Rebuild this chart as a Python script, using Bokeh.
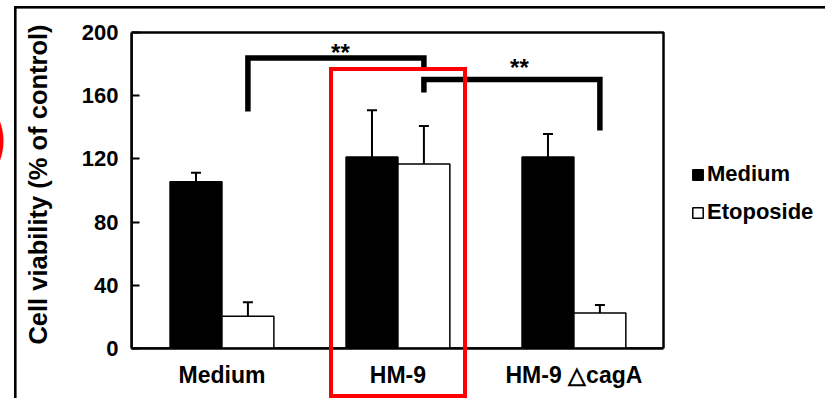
import numpy as np
from bokeh.plotting import figure
from bokeh.models import (ColumnDataSource, FixedTicker, Legend, LegendItem,
                          Whisker, TeeHead, InlineStyleSheet, BoxAnnotation)
from bokeh.transform import dodge
from bokeh.core.properties import value
from bokeh.embed import file_html
from bokeh.resources import INLINE

# ---- data ----
groups = ["Medium", "HM-9", "HM-9 \u25b3cagA"]
group_pos = [1, 2, 3]
medium_vals = [105.6, 121.2, 121.2]
medium_err = [5.7, 29.6, 14.6]
etoposide_vals = [20.4, 116.7, 22.4]
etoposide_err = [8.9, 24.1, 5.1]
y_ticks = [0, 40, 80, 120, 160, 200]

# significance brackets (drawn between Etoposide bars of two groups)
bracket_groups = [[1, 2], [2, 3]]
bracket_top = [183.9, 170.3]
bracket_left_end = [150.0, 162.0]
bracket_right_end = [176.0, 138.0]
star_x = [1.673, 2.690]
star_y = [187.3, 177.8]
star_text = ["**", "**"]

FONT = "Liberation Sans"
BAR_W = 0.295
OFF = BAR_W / 2
X_LO, X_HI = 0.486, 3.509      # plot box extent on x
Y_LO, Y_HI = 0, 200            # plot box extent on y
PX_X = 176.0                   # pixels per x unit
PX_Y = 1.58                    # pixels per y unit
TOP_PAD = 12                   # frame pixels above the plot box

src = ColumnDataSource(dict(
    x=group_pos,
    med=medium_vals,
    med_hi=[v + e for v, e in zip(medium_vals, medium_err)],
    eto=etoposide_vals,
    eto_hi=[v + e for v, e in zip(etoposide_vals, etoposide_err)],
))

# frame extends to the right edge so the legend can sit beside the box
p = figure(width=825, height=398,
           x_range=(X_LO, X_HI + 162 / PX_X), y_range=(Y_LO, Y_HI + TOP_PAD / PX_Y),
           output_backend="svg", toolbar_location=None,
           min_border_left=131, min_border_right=0,
           min_border_top=32 - TOP_PAD, min_border_bottom=50)
p.grid.visible = False
p.outline_line_color = None
p.background_fill_color = "white"
p.border_fill_color = "white"

# plot box
p.add_layout(BoxAnnotation(left=X_LO, right=X_HI, bottom=Y_LO, top=Y_HI,
                           fill_alpha=0, line_color="black", line_alpha=1,
                           line_width=2.5, level="underlay"))

r_med = p.vbar(x=dodge("x", -OFF), top="med", bottom=0, width=BAR_W, source=src,
               fill_color="black", line_color="black", line_width=1.5)
r_eto = p.vbar(x=dodge("x", OFF), top="eto", bottom=0, width=BAR_W, source=src,
               fill_color="white", line_color="black", line_width=1.5)

for col_lo, col_hi, off in (("med", "med_hi", -OFF), ("eto", "eto_hi", OFF)):
    w = Whisker(base=dodge("x", off), lower=col_lo, upper=col_hi, source=src,
                line_color="black", line_width=2, level="glyph",
                upper_head=TeeHead(size=10, line_color="black", line_width=2),
                lower_head=None)
    p.add_layout(w)

# brackets
bx, by = [], []
for (g0, g1), top, le, re in zip(bracket_groups, bracket_top,
                                 bracket_left_end, bracket_right_end):
    bx.append([g0 + OFF, g0 + OFF, g1 + OFF, g1 + OFF])
    by.append([le, top, top, re])
p.multi_line(xs=bx, ys=by, line_color="black", line_width=5.5,
             line_join="miter", line_cap="butt")
p.text(x=star_x, y=star_y, text=star_text, text_font=value(FONT),
       text_font_style="bold", text_font_size="24px", text_align="center",
       text_baseline="middle", text_color="black")

# axes
p.yaxis.bounds = (Y_LO, Y_HI)
p.yaxis.ticker = FixedTicker(ticks=y_ticks)
p.yaxis.minor_tick_line_color = None
p.yaxis.major_tick_in = 8
p.yaxis.major_tick_out = 0
p.yaxis.major_tick_line_width = 2
p.yaxis.axis_line_width = 2.5
p.yaxis.major_label_text_font = FONT
p.yaxis.major_label_text_font_style = "bold"
p.yaxis.major_label_text_font_size = "22px"
p.yaxis.major_label_text_color = "black"
p.yaxis.major_label_standoff = 13
p.yaxis.axis_label = "Cell viability (% of control)"
p.yaxis.axis_label_text_font = FONT
p.yaxis.axis_label_text_font_style = "bold"
p.yaxis.axis_label_text_font_size = "25.5px"
p.yaxis.axis_label_text_color = "black"
p.yaxis.axis_label_standoff = 27

p.xaxis.bounds = (X_LO, X_HI)
p.xaxis.ticker = FixedTicker(ticks=group_pos)
p.xaxis.major_label_overrides = {g: name for g, name in zip(group_pos, groups)}
p.xaxis.minor_tick_line_color = None
p.xaxis.major_tick_in = 0
p.xaxis.major_tick_out = 0
p.xaxis.axis_line_width = 2.5
p.xaxis.major_label_text_font = FONT
p.xaxis.major_label_text_font_style = "bold"
p.xaxis.major_label_text_font_size = "23px"
p.xaxis.major_label_text_color = "black"
p.xaxis.major_label_standoff = 13

legend = Legend(items=[LegendItem(label="Medium", renderers=[r_med]),
                       LegendItem(label="Etoposide", renderers=[r_eto])],
                location=(560, 123), orientation="vertical",
                glyph_width=13, glyph_height=13, label_standoff=3,
                label_height=24, spacing=12, padding=0, margin=0,
                border_line_color=None, background_fill_alpha=0,
                label_text_font=FONT, label_text_font_style="bold",
                label_text_font_size="22px", label_text_color="black")
p.add_layout(legend, "center")

# decorative highlight box, panel border lines and red circle edge (page overlay)
css = """
:host::before {
  content: ""; position: absolute; left: 0; top: 0; width: 825px; height: 398px;
  pointer-events: none; z-index: 5;
  background:
    linear-gradient(#000, #000) 14px 6px / 2.6px 392px no-repeat,
    linear-gradient(#000, #000) 14px 6px / 811px 2.6px no-repeat,
    radial-gradient(circle 57px at -53px 141px, #ff0000 98%, rgba(255,0,0,0) 100%) 0 0 / 825px 398px no-repeat;
}
:host::after {
  content: ""; position: absolute; left: 329px; top: 67px; width: 138px; height: 331px;
  box-sizing: border-box; border: 4px solid #ff0000;
  pointer-events: none; z-index: 6;
}
"""
p.stylesheets = [InlineStyleSheet(css=css)]

open("out.html", "w").write(file_html(p, INLINE))
